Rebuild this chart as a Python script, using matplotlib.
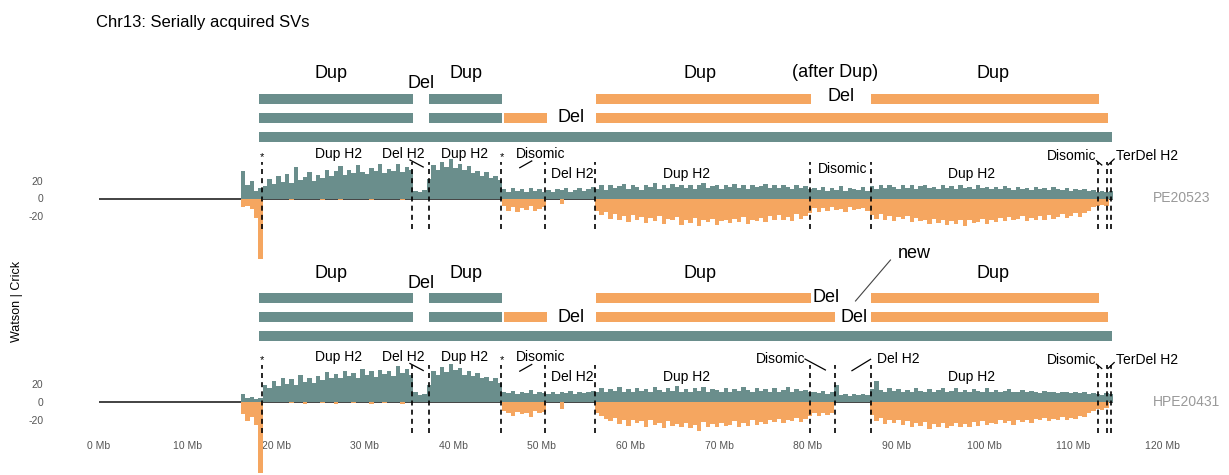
import numpy as np
import matplotlib
matplotlib.use("Agg")
import matplotlib.pyplot as plt

plt.rcParams['font.family'] = ['Liberation Sans', 'DejaVu Sans']

TEAL = "#6A8E8C"
ORANGE = "#F5A660"

# ---------------- data ----------------
bin_start = 16.0      # Mb, first bin of the read-count track
bin_width = 0.5       # Mb
chrom_end = 114.36    # Mb

# PE20523 (top) Watson (+) and Crick (-) counts per 0.5 Mb bin
pe_watson = [
    32, 16, 20, 9, 12, 14, 22, 17, 26, 19,
    28, 18, 36, 21, 25, 30, 20, 27, 24, 33,
    26, 31, 37, 27, 33, 29, 38, 30, 28, 35,
    31, 40, 29, 34, 32, 39, 30, 36, 33, 9,
    7, 10, 22, 38, 33, 42, 36, 45, 35, 40,
    33, 37, 29, 32, 26, 30, 23, 26, 21, 11,
    8, 12, 9, 11, 7, 12, 9, 11, 8, 10,
    8, 11, 10, 12, 8, 10, 12, 9, 11, 13,
    11, 15, 10, 16, 12, 14, 17, 11, 15, 13,
    10, 16, 13, 18, 11, 15, 12, 17, 13, 15,
    12, 16, 11, 15, 18, 12, 14, 16, 11, 15,
    13, 17, 12, 15, 11, 16, 13, 14, 17, 12,
    15, 12, 16, 13, 11, 15, 12, 14, 11, 12,
    10, 13, 9, 12, 10, 14, 9, 12, 11, 10,
    13, 9, 14, 11, 16, 12, 15, 13, 11, 16,
    12, 15, 11, 14, 16, 12, 13, 11, 15, 12,
    14, 11, 15, 12, 13, 11, 16, 12, 13, 11,
    13, 11, 14, 12, 10, 13, 11, 12, 10, 13,
    11, 12, 10, 13, 11, 10, 12, 9, 11, 10,
    11, 9, 10, 8, 9, 8, 9,
]
pe_crick = [
    -10, -8, -12, -22, -69, 0, 0, 0, 0, 0,
    0, -2, 0, 0, 0, -1, 0, 0, -2, 0,
    0, 0, -2, 0, 0, 0, -1, 0, 0, -2,
    0, 0, 0, -1, 0, 0, -2, 0, 0, 0,
    0, 0, 0, 0, 0, 0, 0, 0, 0, 0,
    0, 0, 0, 0, 0, 0, 0, 0, 0, -9,
    -14, -10, -15, -11, -13, -9, -14, -12, -10, 0,
    0, 0, -6, 0, 0, 0, 0, 0, 0, 0,
    -14, -19, -15, -23, -18, -25, -20, -27, -19, -24,
    -21, -28, -22, -26, -20, -29, -23, -25, -21, -30,
    -24, -28, -22, -31, -25, -27, -23, -30, -26, -24,
    -28, -23, -27, -21, -29, -24, -26, -22, -27, -20,
    -25, -19, -24, -21, -26, -18, -23, -20, -16, -11,
    -15, -11, -14, -10, -13, -12, -15, -10, -13, -12,
    -11, -14, -19, -23, -18, -24, -20, -26, -21, -23,
    -20, -27, -22, -26, -24, -29, -23, -28, -25, -30,
    -26, -29, -24, -31, -25, -28, -27, -23, -29, -24,
    -27, -22, -26, -21, -25, -23, -20, -26, -22, -24,
    -20, -24, -19, -23, -21, -18, -22, -20, -17, -21,
    -17, -14, -10, -9, -7, -8, 0,
]

# HPE20431 (bottom)
hpe_watson = [
    9, 5, 6, 3, 5, 20, 16, 24, 18, 27,
    21, 26, 19, 31, 23, 28, 22, 30, 25, 34,
    27, 32, 28, 36, 30, 33, 27, 38, 31, 35,
    29, 37, 32, 35, 30, 41, 33, 38, 31, 11,
    8, 9, 20, 35, 31, 40, 34, 43, 37, 39,
    31, 36, 30, 33, 27, 29, 24, 27, 22, 11,
    10, 13, 9, 12, 10, 14, 9, 12, 10, 9,
    11, 9, 12, 10, 13, 9, 11, 10, 12, 13,
    12, 16, 11, 15, 13, 17, 12, 15, 11, 16,
    13, 15, 12, 17, 14, 11, 16, 13, 18, 12,
    15, 12, 16, 13, 17, 11, 15, 14, 12, 16,
    12, 15, 13, 17, 14, 12, 16, 13, 15, 11,
    16, 12, 14, 17, 11, 15, 13, 14, 12, 11,
    10, 13, 9, 12, 20, 8, 9, 7, 9, 8,
    9, 8, 15, 24, 14, 12, 16, 13, 15, 12,
    14, 11, 16, 13, 12, 15, 11, 14, 16, 12,
    13, 16, 12, 14, 11, 15, 13, 12, 16, 12,
    14, 11, 13, 15, 11, 12, 14, 11, 13, 12,
    10, 13, 11, 12, 10, 12, 11, 10, 12, 10,
    11, 9, 10, 9, 8, 10, 9,
]
hpe_crick = [
    -14, -22, -17, -26, -81, 0, 0, 0, 0, 0,
    0, -1, 0, 0, -2, 0, 0, 0, -1, 0,
    0, -2, 0, 0, 0, -1, 0, 0, 0, -2,
    0, 0, -1, 0, 0, 0, -2, 0, 0, 0,
    0, 0, 0, 0, 0, 0, 0, 0, 0, 0,
    0, 0, 0, 0, 0, 0, 0, 0, 0, -10,
    -13, -16, -11, -14, -12, -17, -10, -13, -11, 0,
    0, 0, -8, 0, 0, 0, 0, 0, 0, 0,
    -12, -16, -19, -22, -18, -25, -21, -27, -20, -24,
    -22, -28, -21, -26, -24, -30, -22, -27, -25, -29,
    -24, -30, -26, -33, -23, -28, -25, -29, -24, -27,
    -26, -22, -28, -24, -27, -21, -26, -23, -25, -20,
    -23, -19, -24, -20, -22, -18, -23, -19, -16, -13,
    -16, -12, -15, -13, 0, 0, 0, 0, 0, 0,
    0, 0, -15, -22, -18, -25, -21, -24, -20, -26,
    -22, -28, -24, -27, -23, -31, -25, -29, -24, -30,
    -27, -24, -29, -25, -28, -23, -27, -22, -26, -24,
    -25, -21, -24, -22, -26, -20, -23, -21, -24, -19,
    -21, -18, -22, -19, -20, -17, -21, -18, -19, -16,
    -17, -13, -10, -8, -9, -7, 0,
]

# SV segments (start Mb, end Mb, color key) per row, rows top->bottom
pe_rows = [
    [(18.1, 35.4, "t"), (37.25, 45.5, "t"), (56.1, 80.4, "o"), (87.1, 112.9, "o")],
    [(18.1, 35.4, "t"), (37.25, 45.5, "t"), (45.7, 50.6, "o"), (56.1, 113.9, "o")],
    [(18.1, 114.3, "t")],
]
hpe_rows = [
    [(18.1, 35.4, "t"), (37.25, 45.5, "t"), (56.1, 80.4, "o"), (87.1, 112.9, "o")],
    [(18.1, 35.4, "t"), (37.25, 45.5, "t"), (45.7, 50.6, "o"), (56.1, 83.1, "o"), (87.1, 113.9, "o")],
    [(18.1, 114.3, "t")],
]

# breakpoints (dashed lines), Mb
pe_breaks = [18.4, 35.3, 37.25, 45.4, 50.3, 56.0, 80.25, 87.1, 112.75, 113.8, 114.2]
hpe_breaks = [18.4, 35.3, 37.25, 45.4, 50.3, 56.0, 80.25, 83.1, 87.1, 112.75, 113.8, 114.2]

x_ticks = [0, 10, 20, 30, 40, 50, 60, 70, 80, 90, 100, 110, 120]
x_ticklabels = [f"{v} Mb" for v in x_ticks]
y_ticks = [-20, 0, 20]
y_ticklabels = ["-20", "0", "20"]

# ---------------- figure ----------------
W, H = 1229, 475
fig = plt.figure(figsize=(W / 100, H / 100), dpi=100)

X0, X1 = 99, 1162  # pixel positions of 0 Mb and 120 Mb
PX_PER_UNIT = 0.875


def ax_at(top_px, bottom_px):
    return fig.add_axes([X0 / W, 1 - bottom_px / H, (X1 - X0) / W, (bottom_px - top_px) / H])


def clean(ax):
    for s in ax.spines.values():
        s.set_visible(False)
    ax.set_xlim(0, 120)
    ax.patch.set_alpha(0)


COL = {"t": TEAL, "o": ORANGE}


def draw_bars(ax, rows, row_y):
    for r, segs in enumerate(rows):
        for (a, b, c) in segs:
            ax.barh(row_y[r], b - a, left=a, height=10, color=COL[c], linewidth=0)


def draw_track(ax, watson, crick, breaks, zero_top, zero_bottom):
    xs = bin_start + bin_width * np.arange(len(watson))
    ax.plot([0, chrom_end], [0, 0], color="#222222", lw=1.2, zorder=1)
    ax.bar(xs, watson, width=bin_width, align="edge", color=TEAL, linewidth=0, zorder=2, clip_on=False)
    xs2 = bin_start + bin_width * np.arange(len(crick))
    ax.bar(xs2, crick, width=bin_width, align="edge", color=ORANGE, linewidth=0, zorder=2, clip_on=False)
    for b in breaks:
        ax.plot([b, b], [-35, 42], color="black", lw=1.2, ls=(0, (3, 2.5)), zorder=3, clip_on=False)
    ax.set_ylim(zero_bottom, zero_top)
    ax.set_yticks(y_ticks)
    ax.set_yticklabels(y_ticklabels)
    ax.tick_params(axis="y", length=0, pad=40, labelsize=7.5, labelcolor="#555555")


SVFS = 13
TFS = 10

# ---- top panel ----
axb1 = ax_at(55, 145)
clean(axb1)
axb1.set_ylim(145, 55)
axb1.set_xticks([]); axb1.set_yticks([])
draw_bars(axb1, pe_rows, [99, 118, 137])
for (x, y, s) in [(26.2, 73, "Dup"), (36.35, 83, "Del"), (41.4, 73, "Dup"), (53.3, 117, "Del"),
                  (67.9, 73, "Dup"), (83.1, 72, "(after Dup)"), (83.8, 96, "Del"), (100.9, 73, "Dup")]:
    axb1.text(x, y, s, ha="center", va="center", fontsize=SVFS)

axt1 = ax_at(145, 265)
clean(axt1)
axt1.set_xticks([])
draw_track(axt1, pe_watson, pe_crick, pe_breaks, (198.5 - 145) / PX_PER_UNIT, -(265 - 198.5) / PX_PER_UNIT)

# ---- bottom panel ----
axb2 = ax_at(245, 345)
clean(axb2)
axb2.set_ylim(345, 245)
axb2.set_xticks([]); axb2.set_yticks([])
draw_bars(axb2, hpe_rows, [298, 317, 336])
for (x, y, s) in [(26.2, 273, "Dup"), (36.35, 283, "Del"), (41.4, 273, "Dup"), (53.3, 317, "Del"),
                  (67.9, 273, "Dup"), (82.1, 298, "Del"), (85.2, 318, "Del"), (100.9, 273, "Dup")]:
    axb2.text(x, y, s, ha="center", va="center", fontsize=SVFS)
axb2.text(92.0, 254, "new", ha="center", va="center", fontsize=SVFS)
axb2.plot([89.35, 85.4], [260, 301], color="#444444", lw=0.8)

axt2 = ax_at(345, 437)
clean(axt2)
draw_track(axt2, hpe_watson, hpe_crick, hpe_breaks, (402 - 345) / PX_PER_UNIT, -(437 - 402) / PX_PER_UNIT)
axt2.set_xticks(x_ticks)
axt2.set_xticklabels(x_ticklabels)
axt2.tick_params(axis="x", length=0, pad=3, labelsize=7.5, labelcolor="#555555")

# track annotations
common = [(18.4, 47.5, "*"), (27.1, 51, "Dup H2"), (34.3, 51, "Del H2"), (41.3, 51, "Dup H2"),
          (45.5, 47.5, "*"), (49.8, 51, "Disomic"), (53.45, 28.5, "Del H2"), (66.3, 28.5, "Dup H2"),
          (98.45, 28.5, "Dup H2"), (109.8, 48, "Disomic"), (118.3, 48, "TerDel H2")]
common_lines = [((35.1, 36.6), (44, 36)), ((47.5, 48.85), (35.2, 42.9)),
                ((112.6, 113.2), (43.2, 38.3)), ((113.9, 114.6), (38.3, 45.1))]
for ax in (axt1, axt2):
    for (x, y, s) in common:
        ax.text(x, y, s, ha="center", va="center", fontsize=TFS if s != "*" else 8)
    for (xx, yy) in common_lines:
        ax.plot(xx, yy, color="black", lw=0.9, clip_on=False)

axt1.text(84.0, 33.7, "Disomic", ha="center", va="center", fontsize=TFS)
axt2.text(76.9, 49, "Disomic", ha="center", va="center", fontsize=TFS)
axt2.text(90.2, 49, "Del H2", ha="center", va="center", fontsize=TFS)
axt2.plot([79.7, 82.0], [49.1, 36.6], color="black", lw=0.9, clip_on=False)
axt2.plot([85.0, 87.1], [35.8, 48.8], color="black", lw=0.9, clip_on=False)

axt1.text(119.0, 0, "PE20523", ha="left", va="center", fontsize=TFS, color="#999999")
axt2.text(119.0, 0, "HPE20431", ha="left", va="center", fontsize=TFS, color="#999999")

fig.text(96 / W, 1 - 22 / H, "Chr13: Serially acquired SVs", ha="left", va="center", fontsize=12)
fig.text(17 / W, 1 - 301 / H, "Watson | Crick", ha="center", va="center", rotation=90, fontsize=9)

fig.savefig("out.png", dpi=100)
